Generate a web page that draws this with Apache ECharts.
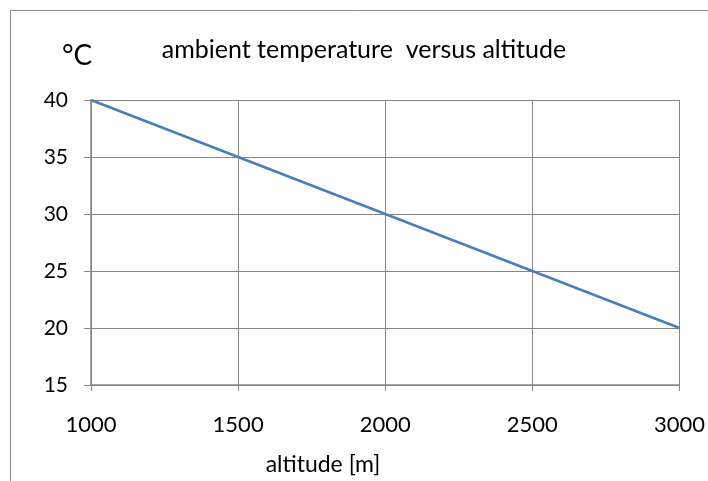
<!DOCTYPE html>
<html><head><meta charset="utf-8">
<script src="https://cdn.jsdelivr.net/npm/echarts@6/dist/echarts.min.js"></script>
<style>html,body{margin:0;padding:0;background:#fff}#c{width:708px;height:481px}</style>
</head><body><div id="c"></div>
<script>
const altitudes = [1000, 1500, 2000, 2500, 3000];
const temperatures = [40, 35, 30, 25, 20];
const titleText = 'ambient temperature  versus altitude';
const yUnit = '°C';
const xName = 'altitude [m]';
const FONT = 'Lato';
const chart = echarts.init(document.getElementById('c'));
chart.setOption({
  animation: false,
  backgroundColor: '#fff',
  graphic: [
    {type: 'rect', shape: {x: 10.5, y: 10.5, width: 720, height: 500}, style: {fill: 'none', stroke: '#8c8c8c', lineWidth: 1}, silent: true},
    {type: 'text', x: 62, y: 56, style: {text: yUnit, fontSize: 28, fontFamily: FONT, fill: '#000', textVerticalAlign: 'middle'}},
    {type: 'text', x: 364, y: 50, style: {text: titleText, fontSize: 25, fontFamily: FONT, fill: '#000', textAlign: 'center', textVerticalAlign: 'middle'}},
    {type: 'text', x: 323, y: 465, style: {text: xName, fontSize: 23, fontFamily: FONT, fill: '#000', textAlign: 'center', textVerticalAlign: 'middle'}}
  ],
  grid: {left: 91, right: 28, top: 100, bottom: 96},
  xAxis: {
    type: 'value', min: 1000, max: 3000, interval: 500,
    axisLine: {show: true, lineStyle: {color: '#868686', width: 1.5}},
    axisTick: {show: true, length: 6, lineStyle: {color: '#868686'}},
    axisLabel: {fontSize: 22, fontFamily: FONT, color: '#000', margin: 29, formatter: v => String(v)},
    splitLine: {show: true, lineStyle: {color: '#868686', width: 1}}
  },
  yAxis: {
    type: 'value', min: 15, max: 40, interval: 5,
    axisLine: {show: true, lineStyle: {color: '#868686', width: 1.5}},
    axisTick: {show: true, length: 7, lineStyle: {color: '#868686'}},
    axisLabel: {fontSize: 21, fontFamily: FONT, color: '#000', margin: 23},
    splitLine: {show: true, lineStyle: {color: '#868686', width: 1}}
  },
  series: [{
    type: 'line',
    data: altitudes.map((a, i) => [a, temperatures[i]]),
    symbol: 'none',
    lineStyle: {color: '#4a7ebb', width: 2.5}
  }]
});
</script></body></html>
